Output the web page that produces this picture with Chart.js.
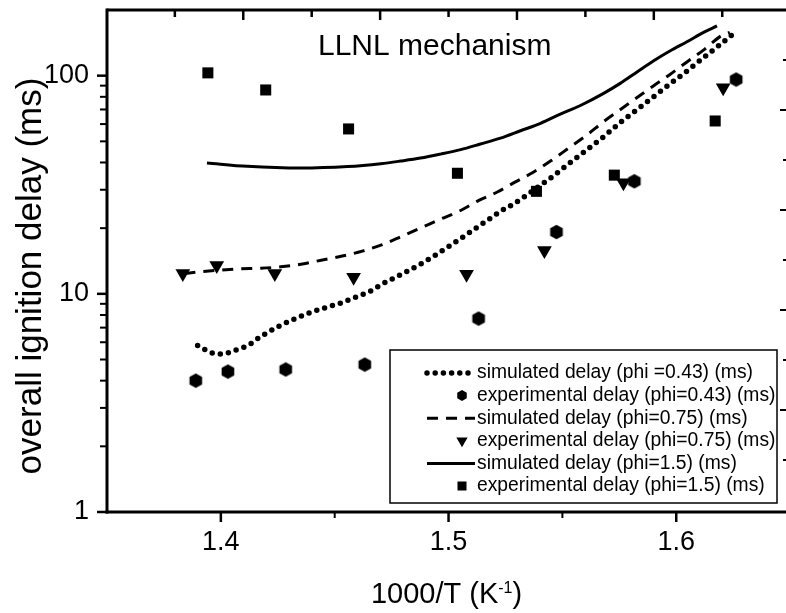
<!DOCTYPE html>
<html>
<head>
<meta charset="utf-8">
<script src="https://cdn.jsdelivr.net/npm/chart.js@4.4.1/dist/chart.umd.min.js"></script>
<style>
  html, body { margin: 0; padding: 0; background: #fff; }
  #chart { display: block; }
</style>
</head>
<body>
<canvas id="chart" width="786" height="613"></canvas>
<script>
// simulated delay, phi = 0.43 (dotted)
var sim043X = [1.3898, 1.3964, 1.4000, 1.4035, 1.4070, 1.4102, 1.4136, 1.4168, 1.4200, 1.4260, 1.4322, 1.4392, 1.4460, 1.4529, 1.4596, 1.4665, 1.4702, 1.4760, 1.4819, 1.4877, 1.4936, 1.4994, 1.5053, 1.5111, 1.5170, 1.5228, 1.5287, 1.5345, 1.5404, 1.5462, 1.5521, 1.5579, 1.5681, 1.5754, 1.5828, 1.5901, 1.5974, 1.6047, 1.6120, 1.6193, 1.6262];
var sim043Y = [5.8, 5.35, 5.3, 5.38, 5.55, 5.7, 5.95, 6.3, 6.6, 7.15, 7.65, 8.2, 8.65, 9.1, 9.7, 10.4, 11.0, 11.8, 12.7, 13.7, 14.9, 16.3, 17.9, 19.7, 21.7, 23.9, 25.9, 28.4, 31.5, 34.8, 39.0, 43.4, 52.5, 61.0, 69.9, 80.2, 91.9, 105, 121, 139, 159];
// simulated delay, phi = 0.75 (dashed)
var sim075X = [1.3840, 1.3904, 1.4073, 1.4175, 1.4263, 1.4358, 1.4446, 1.4533, 1.4621, 1.4709, 1.4797, 1.4885, 1.4965, 1.5053, 1.5133, 1.5214, 1.5294, 1.5374, 1.5451, 1.5528, 1.5605, 1.5678, 1.5751, 1.5825, 1.5898, 1.5971, 1.6044, 1.6124, 1.6196, 1.6235];
var sim075Y = [12.4, 12.6, 13.0, 13.1, 13.3, 13.7, 14.3, 14.9, 15.7, 16.8, 18.4, 20.2, 22.0, 24.1, 26.8, 29.3, 32.6, 36.2, 40.8, 46.6, 53.2, 61.2, 69.5, 79, 89.5, 101, 115, 132, 152, 158];
// simulated delay, phi = 1.5 (solid)
var sim15X = [1.3939, 1.4117, 1.4351, 1.4556, 1.4702, 1.4789, 1.4877, 1.4965, 1.5053, 1.5140, 1.5228, 1.5316, 1.5404, 1.5491, 1.5579, 1.5681, 1.5754, 1.5828, 1.5901, 1.5974, 1.6047, 1.6120, 1.6179];
var sim15Y = [39.8, 38.4, 37.7, 38.3, 39.5, 40.6, 41.9, 43.7, 45.8, 48.6, 51.7, 55.9, 60.5, 66.6, 73.0, 83.0, 92.2, 104, 117, 130, 143, 158, 169];
// experimental points
var exp043X = [1.3890, 1.4031, 1.4285, 1.4632, 1.5132, 1.5474, 1.5816, 1.6263];
var exp043Y = [4.0, 4.4, 4.5, 4.74, 7.7, 19.2, 32.8, 96];
var exp075X = [1.3833, 1.3982, 1.4237, 1.4583, 1.5079, 1.5421, 1.5768, 1.6206];
var exp075Y = [12.4, 13.5, 12.4, 11.9, 12.3, 15.8, 32.3, 88];
var exp15X = [1.3943, 1.4197, 1.4561, 1.5039, 1.5386, 1.5728, 1.6171];
var exp15Y = [103, 86, 57, 35.7, 29.5, 35, 62];

var legendLabels = [
  'simulated delay (phi =0.43) (ms)',
  'experimental delay (phi=0.43) (ms)',
  'simulated delay (phi=0.75) (ms)',
  'experimental delay (phi=0.75) (ms)',
  'simulated delay (phi=1.5) (ms)',
  'experimental delay (phi=1.5) (ms)'
];
var xTickLabels = [1.4, 1.5, 1.6];
var xMinorTicks = [1.45, 1.55];
var yTickLabels = [1, 10, 100];
var yMinorTicks = [2, 3, 4, 5, 6, 7, 8, 9, 20, 30, 40, 50, 60, 70, 80, 90];

var FONT = "'Liberation Sans', Arial, sans-serif";
Chart.defaults.font.family = FONT;
Chart.defaults.color = '#000';

function pts(xs, ys) {
  return xs.map(function(x, i) { return {x: x, y: ys[i]}; });
}

// hexagon marker (pointy top)
function hexPath(ctx, x, y, r) {
  ctx.beginPath();
  for (var k = 0; k < 6; k++) {
    var ang = -Math.PI / 2 + k * Math.PI / 3;
    var px = x + r * Math.cos(ang), py = y + r * Math.sin(ang);
    if (k == 0) ctx.moveTo(px, py); else ctx.lineTo(px, py);
  }
  ctx.closePath();
}
var hexCanvas = document.createElement('canvas');
hexCanvas.width = 16; hexCanvas.height = 16;
(function() {
  var c = hexCanvas.getContext('2d');
  c.fillStyle = '#000';
  hexPath(c, 8, 8, 7.3);
  c.fill();
})();

function drawMarker(ctx, kind, x, y, s) {
  ctx.fillStyle = '#000';
  if (kind == 'hex') {
    hexPath(ctx, x, y, s);
    ctx.fill();
  } else if (kind == 'rect') {
    ctx.fillRect(x - s, y - s, 2 * s, 2 * s);
  } else if (kind == 'tri') {
    ctx.beginPath();
    ctx.moveTo(x - s * 0.866, y - s * 0.5);
    ctx.lineTo(x + s * 0.866, y - s * 0.5);
    ctx.lineTo(x, y + s);
    ctx.closePath();
    ctx.fill();
  }
}

// legend box geometry (pixels)
var LG = {left: 390, top: 350, right: 777, bottom: 503, row0: 373, step: 22.6, lineL: 427, lineR: 475, markX: 462, textX: 477};

var framePlugin = {
  id: 'frame',
  afterDraw: function(chart) {
    var ctx = chart.ctx, a = chart.chartArea, xs = chart.scales.x, ys = chart.scales.y;
    ctx.save();
    ctx.strokeStyle = '#000';
    ctx.fillStyle = '#000';
    ctx.lineCap = 'butt';

    function seg(x1, y1, x2, y2, w) {
      ctx.lineWidth = w;
      ctx.beginPath(); ctx.moveTo(x1, y1); ctx.lineTo(x2, y2); ctx.stroke();
    }
    // axes frame
    seg(a.left, a.top, a.right + 2, a.top, 3);
    seg(a.left, a.top - 1.5, a.left, a.bottom + 1.5, 3);
    seg(a.left - 1.5, a.bottom, a.right + 2, a.bottom, 3);

    // left ticks (outward)
    yTickLabels.forEach(function(v) { var p = ys.getPixelForValue(v); seg(a.left - 10, p, a.left, p, 2.5); });
    yMinorTicks.forEach(function(v) { var p = ys.getPixelForValue(v); seg(a.left - 7, p, a.left, p, 2); });
    // bottom ticks (outward)
    xTickLabels.forEach(function(v) { var p = xs.getPixelForValue(v); seg(p, a.bottom, p, a.bottom + 10, 2.5); });
    xMinorTicks.forEach(function(v) { var p = xs.getPixelForValue(v); seg(p, a.bottom, p, a.bottom + 6, 2); });
    // top ticks (inward), secondary unlabelled axis
    for (var k = 0; k < 9; k++) {
      var p = xs.getPixelForValue(1.3798 + k * 0.03005);
      seg(p, a.top, p, a.top + (k % 2 ? 10 : 7), 2.5);
    }
    // right ticks (inward), secondary unlabelled axis
    for (var j = 1; j <= 9; j++) {
      var py = a.bottom - 2 - j * 50;
      seg(a.right, py, a.right - (j % 2 ? 3 : 6), py, 2);
    }

    // inner title
    ctx.font = '30px ' + FONT;
    ctx.textAlign = 'left';
    ctx.textBaseline = 'middle';
    ctx.fillText('LLNL mechanism', 318, 47);

    // y title
    ctx.save();
    ctx.translate(31, 276);
    ctx.rotate(-Math.PI / 2);
    ctx.font = '35px ' + FONT;
    ctx.textAlign = 'center';
    ctx.textBaseline = 'middle';
    ctx.fillText('overall ignition delay (ms)', 0, 0);
    ctx.restore();

    // x title with superscript
    ctx.textBaseline = 'alphabetic';
    ctx.textAlign = 'left';
    var t1 = '1000/T (K', sup = '-1', t2 = ')';
    ctx.font = '29px ' + FONT;
    var w1 = ctx.measureText(t1).width, w3 = ctx.measureText(t2).width;
    ctx.font = '16px ' + FONT;
    var w2 = ctx.measureText(sup).width;
    var x0 = (a.left + a.right) / 2 - (w1 + w2 + w3) / 2, base = 603;
    ctx.font = '29px ' + FONT;
    ctx.fillText(t1, x0, base);
    ctx.font = '16px ' + FONT;
    ctx.fillText(sup, x0 + w1, base - 10);
    ctx.font = '29px ' + FONT;
    ctx.fillText(t2, x0 + w1 + w2, base);

    // legend
    ctx.fillStyle = '#fff';
    ctx.fillRect(LG.left, LG.top, LG.right - LG.left, LG.bottom - LG.top);
    ctx.strokeStyle = '#000';
    ctx.lineWidth = 1.5;
    ctx.strokeRect(LG.left, LG.top, LG.right - LG.left, LG.bottom - LG.top);
    ctx.font = '19.3px ' + FONT;
    ctx.textBaseline = 'middle';
    chart.data.datasets.forEach(function(ds, i) {
      var y = LG.row0 + i * LG.step;
      if (ds.showLine) {
        ctx.save();
        ctx.lineWidth = ds.borderWidth;
        ctx.lineCap = ds.borderCapStyle || 'butt';
        ctx.setLineDash(ds.borderDash || []);
        ctx.beginPath(); ctx.moveTo(LG.lineL, y); ctx.lineTo(LG.lineR, y); ctx.stroke();
        ctx.restore();
      } else {
        drawMarker(ctx, ds.marker, LG.markX, y, ds.legendSize);
      }
      ctx.fillStyle = '#000';
      ctx.fillText(legendLabels[i], LG.textX, y);
    });
    ctx.restore();
  }
};

var lineBase = {showLine: true, pointRadius: 0, borderColor: '#000', backgroundColor: '#000', cubicInterpolationMode: 'monotone'};

var datasets = [
  Object.assign({}, lineBase, {label: legendLabels[0], data: pts(sim043X, sim043Y), borderWidth: 5.5, borderDash: [0, 8.2], borderCapStyle: 'round'}),
  {label: legendLabels[1], data: pts(exp043X, exp043Y), showLine: false, pointStyle: hexCanvas, pointRadius: 7, backgroundColor: '#000', borderWidth: 0, marker: 'hex', legendSize: 5.5},
  Object.assign({}, lineBase, {label: legendLabels[2], data: pts(sim075X, sim075Y), borderWidth: 3, borderDash: [11, 8]}),
  {label: legendLabels[3], data: pts(exp075X, exp075Y), showLine: false, pointStyle: 'triangle', rotation: 180, pointRadius: 8.5, backgroundColor: '#000', borderWidth: 0, marker: 'tri', legendSize: 6.5},
  Object.assign({}, lineBase, {label: legendLabels[4], data: pts(sim15X, sim15Y), borderWidth: 3}),
  {label: legendLabels[5], data: pts(exp15X, exp15Y), showLine: false, pointStyle: 'rect', pointRadius: 7.8, backgroundColor: '#000', borderWidth: 0, marker: 'rect', legendSize: 4.5}
];

new Chart(document.getElementById('chart').getContext('2d'), {
  type: 'scatter',
  data: {datasets: datasets},
  plugins: [framePlugin],
  options: {
    responsive: false,
    animation: false,
    layout: {autoPadding: false, padding: {top: 10, right: 0, left: 0, bottom: 0}},
    plugins: {legend: {display: false}, tooltip: {enabled: false}, title: {display: false}},
    scales: {
      x: {
        type: 'linear', position: 'bottom', min: 1.35, max: 1.6482,
        grid: {display: false, drawTicks: false},
        border: {display: false},
        afterFit: function(s) { s.height = 101; s.paddingLeft = 0; s.paddingRight = 0; },
        afterBuildTicks: function(s) { s.ticks = xTickLabels.map(function(v) { return {value: v}; }); },
        ticks: {font: {size: 27}, color: '#000', padding: 14, maxRotation: 0, autoSkip: false,
          callback: function(v) { return v.toFixed(1); }}
      },
      y: {
        type: 'logarithmic', position: 'left', min: 1, max: 200,
        grid: {display: false, drawTicks: false},
        border: {display: false},
        afterFit: function(s) { s.width = 107; s.paddingTop = 0; s.paddingBottom = 0; },
        afterBuildTicks: function(s) { s.ticks = yTickLabels.map(function(v) { return {value: v}; }); },
        ticks: {font: {size: 27}, color: '#000', padding: 18, autoSkip: false,
          callback: function(v) { return String(v); }}
      }
    }
  }
});
</script>
</body>
</html>
